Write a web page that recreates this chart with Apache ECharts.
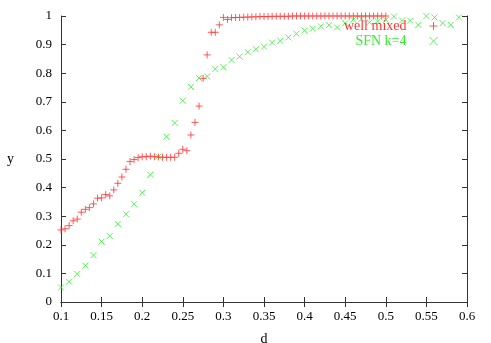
<!DOCTYPE html>
<html>
<head>
<meta charset="utf-8">
<script src="https://cdn.jsdelivr.net/npm/echarts@6/dist/echarts.min.js"></script>
<style>html,body{margin:0;padding:0;background:#fff}#c{width:491px;height:343px}</style>
</head>
<body>
<div id="c"></div>
<script>
// ---- data ----
const seriesNames = ['well mixed', 'SFN k=4'];
const wellMixedD = [];
for (let i = 0; i <= 80; i++) wellMixedD.push(+(0.1 + i * 0.005).toFixed(3));
const wellMixedY = [
  0.252, 0.256, 0.267, 0.284, 0.290, 0.314, 0.324, 0.330, 0.343, 0.363,
  0.364, 0.376, 0.371, 0.392, 0.415, 0.437, 0.464, 0.491, 0.498, 0.505,
  0.508, 0.508, 0.510, 0.508, 0.507, 0.506, 0.506, 0.506, 0.506, 0.520,
  0.534, 0.529, 0.584, 0.628, 0.685, 0.782, 0.864, 0.943, 0.943, 0.969,
  0.995, 0.988, 0.994, 0.995, 0.995, 0.996, 0.996, 0.997, 0.997, 0.998,
  0.998, 0.998, 0.999, 0.999, 0.999, 0.999, 0.999, 1.000, 1.000, 1.000,
  1.000, 1.000, 1.000, 1.000, 1.000, 1.000, 1.000, 1.000, 1.000, 1.000,
  1.000, 1.000, 1.000, 1.000, 1.000, 1.000, 1.000, 1.000, 1.000, 1.000,
  1.000
];
const sfnD = [];
for (let i = 0; i <= 49; i++) sfnD.push(+(0.1 + i * 0.01).toFixed(2));
const sfnY = [
  0.051, 0.071, 0.098, 0.127, 0.164, 0.211, 0.231, 0.273, 0.307, 0.342,
  0.382, 0.445, 0.508, 0.578, 0.626, 0.704, 0.752, 0.783, 0.789, 0.815,
  0.821, 0.846, 0.858, 0.874, 0.884, 0.893, 0.907, 0.913, 0.925, 0.938,
  0.949, 0.956, 0.964, 0.968, 0.960, 0.975, 0.987, 0.990, 0.978, 0.982,
  0.986, 0.998, 0.984, 0.984, 0.969, 1.000, 0.995, 0.975, 0.969, 0.995
];
const xTicks = ['0.1','0.15','0.2','0.25','0.3','0.35','0.4','0.45','0.5','0.55','0.6'];
const yTicks = ['0','0.1','0.2','0.3','0.4','0.5','0.6','0.7','0.8','0.9','1'];

// ---- chart ----
const FONT = '"Liberation Serif", "DejaVu Serif", serif';
const RED = '#ff3333';
const GREEN = '#33ee33';
const plusPath = 'path://M0,5L10,5M5,0L5,10';
const crossPath = 'path://M0,0L10,10M0,10L10,0';

const xMin = +xTicks[0], xMax = +xTicks[xTicks.length - 1];
const yMin = +yTicks[0], yMax = +yTicks[yTicks.length - 1];

function axisBase(showLabel) {
  return {
    type: 'value',
    axisLine: { show: true, lineStyle: { color: '#333', width: 1 } },
    axisTick: { show: true, inside: true, length: 5, lineStyle: { color: '#333' } },
    splitLine: { show: false },
    axisLabel: { show: showLabel, color: '#000', fontFamily: FONT, fontSize: 13 }
  };
}

const chart = echarts.init(document.getElementById('c'), null, { renderer: 'canvas' });
chart.setOption({
  animation: false,
  backgroundColor: '#fff',
  grid: { left: 61, right: 24, top: 16, bottom: 41, containLabel: false, outerBoundsMode: 'none' },
  legend: {
    orient: 'vertical',
    right: 46,
    top: 14,
    align: 'right',
    itemWidth: 26,
    itemHeight: 8,
    itemGap: 1,
    selectedMode: false,
    textStyle: { fontFamily: FONT, fontSize: 14 },
    data: [
      { name: seriesNames[0], icon: 'path://M0,4L0,4M18,4L26,4M22,0L22,8',
        itemStyle: { color: 'none', borderColor: RED, borderWidth: 1 },
        textStyle: { color: RED } },
      { name: seriesNames[1], icon: 'path://M0,4L0,4M18,0L26,8M18,8L26,0',
        itemStyle: { color: 'none', borderColor: GREEN, borderWidth: 1 },
        textStyle: { color: GREEN } }
    ]
  },
  xAxis: [
    Object.assign(axisBase(true), {
      min: xMin, max: xMax, interval: 0.05, position: 'bottom',
      name: 'd', nameLocation: 'middle', nameGap: 30,
      nameTextStyle: { fontFamily: FONT, fontSize: 14, color: '#000' },
      axisLabel: { show: true, color: '#000', fontFamily: FONT, fontSize: 13, margin: 8,
        formatter: v => xTicks[Math.round((v - xMin) / 0.05)] }
    }),
    Object.assign(axisBase(false), { min: xMin, max: xMax, interval: 0.05, position: 'top' })
  ],
  yAxis: [
    Object.assign(axisBase(true), {
      min: yMin, max: yMax, interval: 0.1, position: 'left',
      name: 'y', nameLocation: 'middle', nameGap: 47, nameRotate: 0,
      nameTextStyle: { fontFamily: FONT, fontSize: 14, color: '#000' },
      axisLabel: { show: true, color: '#000', fontFamily: FONT, fontSize: 13, margin: 9,
        formatter: v => yTicks[Math.round((v - yMin) / 0.1)] }
    }),
    Object.assign(axisBase(false), { min: yMin, max: yMax, interval: 0.1, position: 'right' })
  ],
  series: [
    {
      name: seriesNames[0], type: 'scatter', xAxisIndex: 0, yAxisIndex: 0,
      symbol: plusPath, symbolSize: 7, z: 3,
      itemStyle: { color: 'none', borderColor: RED, borderWidth: 1 },
      data: wellMixedD.map((d, i) => [d, wellMixedY[i]])
    },
    {
      name: seriesNames[1], type: 'scatter', xAxisIndex: 0, yAxisIndex: 0,
      symbol: crossPath, symbolSize: 6, z: 2,
      itemStyle: { color: 'none', borderColor: GREEN, borderWidth: 1 },
      data: sfnD.map((d, i) => [d, sfnY[i]])
    }
  ]
});
</script>
</body>
</html>
